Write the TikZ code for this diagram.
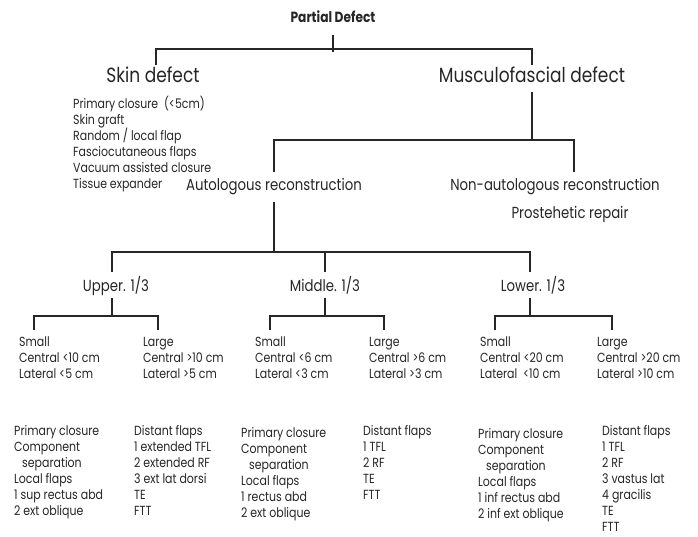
\documentclass[tikz,border=0pt]{standalone}
\usepackage{fontspec}
\setmainfont[FakeStretch=0.83]{Poppins}
\usepackage{tikz}

\begin{document}
\begin{tikzpicture}[x=1pt, y=-1pt,
        every node/.style={inner sep=0pt, text=black!85},
        branch/.style={draw=black!85, line width=1.6pt},
        head/.style={font=\fontsize{20.5}{23}\selectfont, text height=13pt, text depth=4pt},
        sub/.style={font=\fontsize{16}{18}\selectfont, text height=10.5pt, text depth=3pt},
        list/.style={font=\fontsize{13.2}{16}\selectfont, align=left, anchor=north west}]
        \useasboundingbox[fill=white] (0,0) rectangle (698,537);
        \node[font=\bfseries\fontsize{14.7}{18}\selectfont] (pd) at (333,17) {Partial Defect};
        \node[head] (skin) at (153,78) {Skin defect};
        \node[head] (musc) at (532,78) {Musculofascial defect};
        \node[list] (skinl) at (73,96) {Primary closure\ \ (<5cm)\\Skin graft\\Random / local flap\\Fasciocutaneous flaps\\Vacuum assisted closure\\Tissue expander};
        \node[sub] (auto) at (274,187) {Autologous reconstruction};
        \node[sub] (nonauto) at (555,187) {Non-autologous reconstruction};
        \node[sub] (prost) at (570,215) {Prostehetic repair};
        \node[sub] (up) at (116,288) {Upper. 1/3};
        \node[sub] (mid) at (325,288) {Middle. 1/3};
        \node[sub] (low) at (533,288) {Lower. 1/3};
        \node[list] (sA) at (19,337) {Small\\Central <10 cm\\Lateral <5 cm};
        \node[list] (lA) at (143,337) {Large\\Central >10 cm\\Lateral >5 cm};
        \node[list] (sB) at (255,337) {Small\\Central <6 cm\\Lateral <3 cm};
        \node[list] (lB) at (369,337) {Large\\Central >6 cm\\Lateral >3 cm};
        \node[list] (sC) at (480,337) {Small\\Central <20 cm\\Lateral~~<10 cm};
        \node[list] (lC) at (597,337) {Large\\Central >20 cm\\Lateral >10 cm};
        \node[list] (tA) at (14,425) {Primary closure\\Component\\\hspace*{8pt}separation\\Local flaps\\1 sup rectus abd\\2 ext oblique};
        \node[list] (dA) at (134,425) {Distant flaps\\1 extended TFL\\2 extended RF\\3 ext lat dorsi\\TE\\FTT};
        \node[list] (tB) at (241,427) {Primary closure\\Component\\\hspace*{8pt}separation\\Local flaps\\1 rectus abd\\2 ext oblique};
        \node[list] (dB) at (363,425) {Distant flaps\\1 TFL\\2 RF\\TE\\FTT};
        \node[list] (tC) at (478,428) {Primary closure\\Component\\\hspace*{8pt}separation\\Local flaps\\1 inf rectus abd\\2 inf ext oblique};
        \node[list] (dC) at (602,425) {Distant flaps\\1 TFL\\2 RF\\3 vastus lat\\4 gracilis\\TE\\FTT};
        \coordinate (j1) at (333,49);
        \coordinate (j2) at (528,140);
        \coordinate (j3) at (273,252);
        \draw[branch] ([yshift=-12pt]pd.south) -- ([yshift=-3pt]j1);
        \draw[branch] ([xshift=3pt,yshift=4.5pt]skin.north) |- (j1) -| ([yshift=4.5pt]musc.north);
        \draw[branch] ([yshift=-5.5pt]musc.south) -- (musc.south |- j2);
        \draw[branch] ([yshift=8pt]auto.north) |- (j2) -| ([xshift=19pt,yshift=8pt]nonauto.north);
        \draw[branch] ([yshift=-8pt]auto.south) -- (auto.south |- j3);
        \draw[branch] ([xshift=-4pt,yshift=9pt]up.north) |- (j3) -| ([xshift=-3pt,yshift=9pt]low.north);
        \draw[branch] ([yshift=9pt]mid.north) -- (mid.north |- j3);
        \draw[branch] ([xshift=-4pt,yshift=-3pt]up.south) -- ([xshift=-4pt]up.south |- 0,316) coordinate (j4);
        \draw[branch] ([yshift=-3pt]mid.south) -- (mid.south |- 0,316) coordinate (j5);
        \draw[branch] ([xshift=-3pt,yshift=-3pt]low.south) -- ([xshift=-3pt]low.south |- 0,316) coordinate (j6);
        \draw[branch] ([shift={(15pt,7pt)}]sA.north west) |- (j4) -| ([shift={(15pt,7pt)}]lA.north west);
        \draw[branch] ([shift={(15pt,7pt)}]sB.north west) |- (j5) -| ([shift={(15pt,7pt)}]lB.north west);
        \draw[branch] ([shift={(15pt,7pt)}]sC.north west) |- (j6) -| ([shift={(15pt,7pt)}]lC.north west);
\end{tikzpicture}
\end{document}
